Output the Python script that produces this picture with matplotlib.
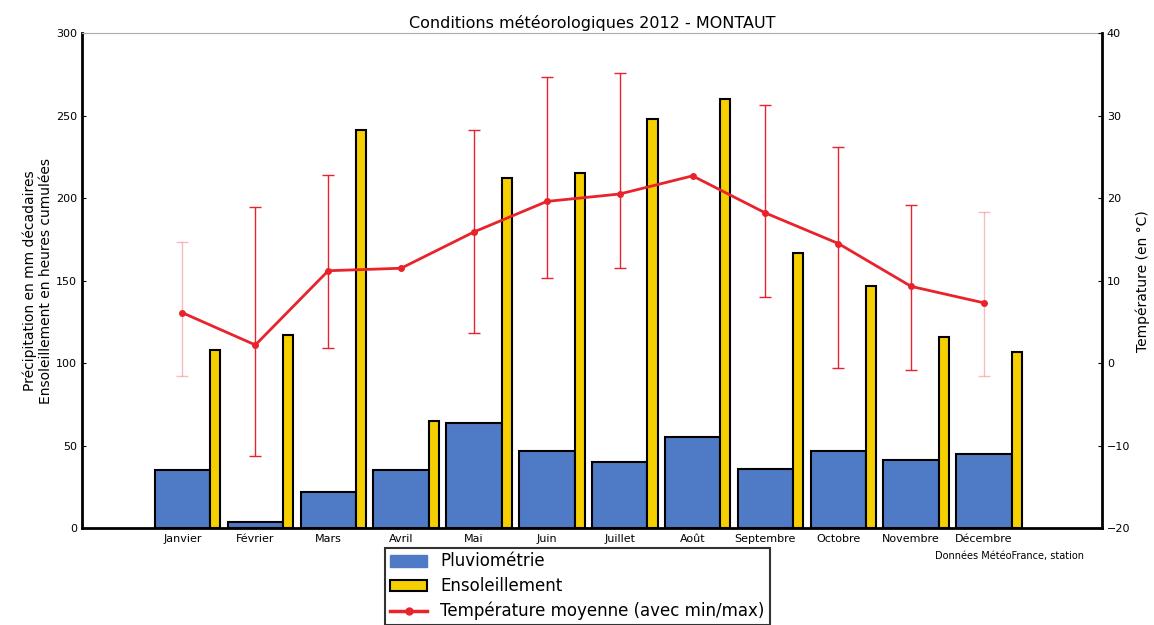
import numpy as np
import matplotlib

matplotlib.use("Agg")
import matplotlib.pyplot as plt
from matplotlib.patches import Patch
from matplotlib.lines import Line2D

months = ["Janvier", "Février", "Mars", "Avril", "Mai", "Juin", "Juillet",
          "Août", "Septembre", "Octobre", "Novembre", "Décembre"]
pluvio = [35, 4, 22, 35, 64, 47, 40, 55, 36, 47, 41, 45]
soleil = [108, 117, 241, 65, 212, 215, 248, 260, 167, 147, 116, 107]
temp_moy = [6.1, 2.2, 11.2, 11.5, 15.9, 19.6, 20.5, 22.7, 18.2, 14.5, 9.3, 7.3]
temp_max = [14.7, 18.9, 22.8, np.nan, 28.2, 34.7, 35.2, np.nan, 31.3, 26.2, 19.2, 18.3]
temp_min = [-1.5, -11.2, 1.8, np.nan, 3.6, 10.3, 11.5, np.nan, 8.0, -0.6, -0.8, -1.5]

BLUE = "#4f7bc6"
YELLOW = "#f5cf00"
RED = "#e8232c"

x = np.arange(1, len(months) + 1)
w_blue = 0.76
w_yel = 0.14
xc = x + w_blue / 2

fig = plt.figure(figsize=(11.54, 6.25), dpi=100)
ax = fig.add_axes([0.071, 0.155, 0.884, 0.792])

ax.bar(x, pluvio, width=w_blue, align="edge", color=BLUE,
       edgecolor="black", linewidth=1.5, zorder=2)
ax.bar(x + w_blue, soleil, width=w_yel, align="edge", color=YELLOW,
       edgecolor="black", linewidth=1.5, zorder=2)

ax.set_xlim(0, 14)
ax.set_ylim(0, 300)
ax.set_yticks(range(0, 301, 50))
ax.set_xticks(xc)
ax.set_xticklabels(months, fontsize=8)
ax.tick_params(axis="x", length=0, pad=4)
ax.tick_params(axis="y", labelsize=8, length=3, direction="in")
ax.set_ylabel("Précipitation en mm décadaires\nEnsoleillement en heures cumulées",
              fontsize=10, labelpad=2)
ax.set_title("Conditions météorologiques 2012 - MONTAUT", fontsize=11.5, pad=4)

for side in ["left", "bottom"]:
    ax.spines[side].set_linewidth(2)
ax.spines["top"].set_color("#aaaaaa")
ax.spines["top"].set_linewidth(0.8)
ax.spines["right"].set_visible(False)

ax2 = ax.twinx()
ax2.set_ylim(-20, 40)
ax2.set_yticks(range(-20, 41, 10))
ax2.tick_params(axis="y", labelsize=8, length=3, direction="in")
ax2.set_ylabel("Température (en °C)", fontsize=10)
ax2.spines["right"].set_linewidth(2)
ax2.spines["top"].set_visible(False)
ax2.spines["left"].set_visible(False)
ax2.spines["bottom"].set_visible(False)

tmax = np.array(temp_max)
tmin = np.array(temp_min)
tm = np.array(temp_moy)
ok = ~np.isnan(tmax)
inner = ok.copy()
inner[[0, -1]] = False
ax2.errorbar(xc[inner], tm[inner], yerr=[tm[inner] - tmin[inner], tmax[inner] - tm[inner]],
             fmt="none", ecolor=RED, elinewidth=1, capsize=4, zorder=3)
# janvier / décembre : barres à peine visibles sur l'original
edge = ok & ~inner
ax2.errorbar(xc[edge], tm[edge], yerr=[tm[edge] - tmin[edge], tmax[edge] - tm[edge]],
             fmt="none", ecolor=RED, elinewidth=1, capsize=4, alpha=0.3, zorder=3)
ax2.plot(xc, tm, color=RED, linewidth=2, marker="o", markersize=4, zorder=4)

fig.text(0.875, 0.105, "Données MétéoFrance, station", fontsize=7, ha="center")

handles = [
    Patch(facecolor=BLUE, edgecolor=BLUE),
    Patch(facecolor=YELLOW, edgecolor="black", linewidth=1.5),
    Line2D([], [], color=RED, linewidth=2.5, marker="o", markersize=5),
]
labels = ["Pluviométrie", "Ensoleillement", "Température moyenne (avec min/max)"]
leg = fig.legend(handles, labels, loc="upper left", bbox_to_anchor=(0.334, 0.124),
                 fontsize=12, frameon=True, fancybox=False, borderaxespad=0,
                 labelspacing=0.4, handlelength=2.2, borderpad=0.3)
leg.get_frame().set_edgecolor("black")
leg.get_frame().set_linewidth(1.5)

fig.savefig("out.png", dpi=100)
